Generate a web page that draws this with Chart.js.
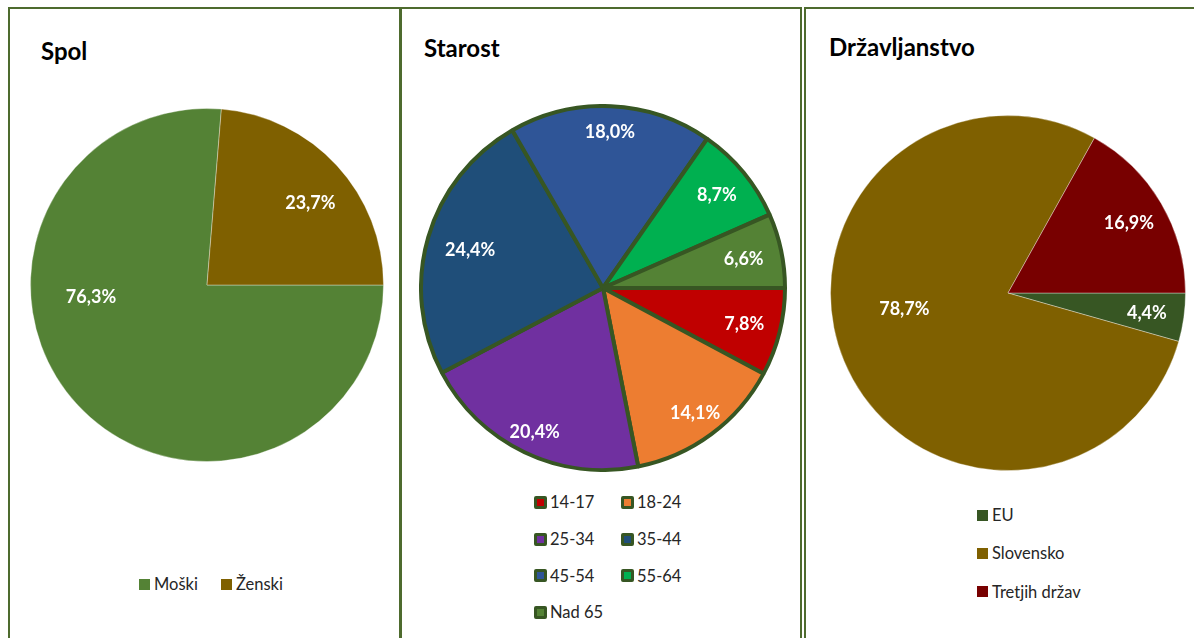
<!DOCTYPE html>
<html>
<head>
<meta charset="utf-8">
<script src="https://cdn.jsdelivr.net/npm/chart.js@4.4.0/dist/chart.umd.min.js"></script>
<style>
body { margin: 0; background: #fff; width: 1194px; height: 638px; overflow: hidden; position: relative; font-family: Lato, sans-serif; }
.panel { position: absolute; top: 7px; height: 700px; border: 2px solid #4e6b2e; box-sizing: border-box; }
.title { position: absolute; font-weight: bold; font-size: 24px; line-height: 24px; color: #000; white-space: nowrap; }
canvas { position: absolute; }
.legend { position: absolute; display: grid; font-size: 16.5px; color: #262626; }
.item { display: flex; align-items: center; white-space: nowrap; }
.box { width: 11px; height: 11px; margin-right: 4px; box-sizing: border-box; flex: none; }
</style>
</head>
<body>
<div class="panel" style="left:8px;width:393px"></div>
<div class="panel" style="left:400px;width:402px"></div>
<div class="panel" style="left:804px;width:420px"></div>

<div class="title" style="left:41px;top:39px">Spol</div>
<div class="title" style="left:424px;top:36px">Starost</div>
<div class="title" style="left:829px;top:35px">Državljanstvo</div>

<canvas id="spol" width="354" height="354" style="left:30px;top:108px"></canvas>
<canvas id="starost" width="368" height="368" style="left:419px;top:104px"></canvas>
<canvas id="drz" width="356" height="356" style="left:830px;top:115px"></canvas>

<div class="legend" id="legSpol" style="left:139px;top:574px;grid-template-columns:82px 82px;grid-auto-rows:20px"></div>
<div class="legend" id="legStarost" style="left:534px;top:484px;grid-template-columns:87px 87px;grid-auto-rows:36.7px"></div>
<div class="legend" id="legDrz" style="left:977px;top:496px;grid-template-columns:140px;grid-auto-rows:38.3px"></div>

<script>
// podatki
const spolLabels = ['Moški', 'Ženski'];
const spolValues = [76.3, 23.7];
const spolColors = ['#548235', '#7f6000'];

const starostLabels = ['14-17', '18-24', '25-34', '35-44', '45-54', '55-64', 'Nad 65'];
const starostValues = [7.8, 14.1, 20.4, 24.4, 18.0, 8.7, 6.6];
const starostColors = ['#c00000', '#ed7d31', '#7030a0', '#1f4e79', '#2f5597', '#00b050', '#548235'];

const drzLabels = ['EU', 'Slovensko', 'Tretjih držav'];
const drzValues = [4.4, 78.7, 16.9];
const drzColors = ['#375623', '#7f6000', '#780000'];

const deg = Math.PI / 180;

// odstotki na rezinah
const pctLabels = {
	id: 'pctLabels',
	afterDatasetsDraw(chart, args, opts) {
		const ctx = chart.ctx;
		const meta = chart.getDatasetMeta(0);
		const vals = chart.data.datasets[0].data;
		ctx.save();
		ctx.font = 'bold 18px Lato';
		ctx.fillStyle = '#fff';
		ctx.textAlign = 'center';
		ctx.textBaseline = 'middle';
		meta.data.forEach(function (arc, i) {
			const p = arc.getProps(['x', 'y', 'startAngle', 'endAngle', 'outerRadius'], true);
			let a = (p.startAngle + p.endAngle) / 2 + (opts.shift ? opts.shift[i] * deg : 0);
			let k = opts.radii ? opts.radii[i] : opts.radius;
			if (p.endAngle - p.startAngle > Math.PI) {
				a = opts.bigAngle;
				k = opts.bigRadius;
			}
			const x = p.x + Math.cos(a) * p.outerRadius * k;
			const y = p.y + Math.sin(a) * p.outerRadius * k;
			ctx.fillText(vals[i].toFixed(1).replace('.', ',') + '%', x, y + 1);
		});
		ctx.restore();
	}
};

function makePie(id, labels, values, colors, border, labelOpts) {
	return new Chart(document.getElementById(id), {
		type: 'pie',
		data: {
			labels: labels,
			datasets: [{
				data: values,
				backgroundColor: colors,
				borderColor: border.color,
				borderWidth: border.width
			}]
		},
		options: {
			responsive: false,
			animation: false,
			rotation: 90,
			layout: { padding: 0 },
			plugins: {
				legend: { display: false },
				tooltip: { enabled: false },
				pctLabels: labelOpts
			}
		},
		plugins: [pctLabels]
	});
}

function buildLegend(chart, elId) {
	const el = document.getElementById(elId);
	const items = chart.options.plugins.legend.labels.generateLabels(chart);
	items.forEach(function (it) {
		const row = document.createElement('div');
		row.className = 'item';
		const box = document.createElement('span');
		box.className = 'box';
		box.style.background = it.fillStyle;
		if (it.lineWidth >= 2) {
			box.style.width = '13px';
			box.style.height = '13px';
			box.style.border = '3.5px solid ' + it.strokeStyle;
			box.style.borderRadius = '2px';
			box.style.marginRight = '3px';
		}
		row.appendChild(box);
		row.appendChild(document.createTextNode(it.text));
		el.appendChild(row);
	});
}

const spolChart = makePie('spol', spolLabels, spolValues, spolColors,
	{ color: 'rgba(255,255,255,0.35)', width: 1 },
	{ radius: 0.75, shift: [0, 4], bigAngle: 174.7 * deg, bigRadius: 0.66 });
const starostChart = makePie('starost', starostLabels, starostValues, starostColors,
	{ color: '#375623', width: 4 },
	{ radii: [0.8, 0.85, 0.87, 0.76, 0.86, 0.81, 0.79], bigAngle: 0, bigRadius: 0.6 });
const drzChart = makePie('drz', drzLabels, drzValues, drzColors,
	{ color: 'rgba(255,255,255,0.35)', width: 1 },
	{ radius: 0.79, bigAngle: 171.8 * deg, bigRadius: 0.59 });

buildLegend(spolChart, 'legSpol');
buildLegend(starostChart, 'legStarost');
buildLegend(drzChart, 'legDrz');
</script>
</body>
</html>
